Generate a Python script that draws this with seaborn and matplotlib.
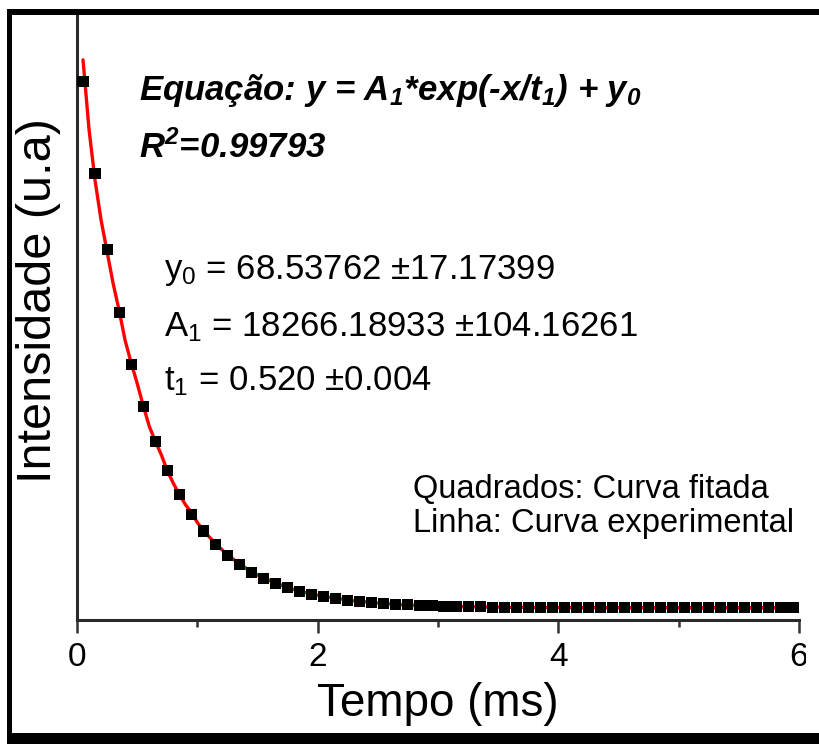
import numpy as np
import pandas as pd
import matplotlib
matplotlib.use("Agg")
import matplotlib.pyplot as plt
import seaborn as sns
from matplotlib.patches import Rectangle

# Curva fitada (quadrados), passo de 0.1 ms
tempo_fit = [round(0.05 + 0.1 * i, 2) for i in range(60)]
intensidade_fit = [16660, 13757, 11363, 9387, 7756, 6411, 5302, 4386, 3631, 3008,
                   2493, 2069, 1719, 1430, 1192, 996, 833, 700, 589, 498,
                   423, 361, 310, 268, 233, 204, 180, 161, 145, 131,
                   120, 111, 104, 98, 93, 88, 85, 82, 80, 78,
                   76, 75, 74, 73, 72, 71, 71, 70, 70, 70,
                   69, 69, 69, 69, 69, 69, 69, 69, 69, 69]

# Curva experimental (linha)
tempo_exp = [round(0.05 + 0.05 * i, 2) for i in range(40)] + [round(2.1 + 0.1 * i, 2) for i in range(40)]
intensidade_exp = [17350, 15150, 13550, 12300, 11300, 10300, 9450, 8500, 7800, 7150,
                   6450, 5800, 5330, 4900, 4400, 4000, 3650, 3330, 3080, 2760,
                   2510, 2300, 2110, 1920, 1740, 1600, 1450, 1330, 1210, 1100,
                   1010, 930, 850, 780, 710, 650, 600, 550, 505, 465,
                   400, 345, 295, 255, 222, 195, 168, 150, 140, 122,
                   117, 104, 102, 93, 92, 84, 86, 77, 80, 74,
                   78, 71, 75, 69, 73, 67, 72, 66, 71, 68,
                   70, 65, 71, 67, 69, 66, 70, 67, 68, 69]

x_ticks = [0, 2, 4, 6]
x_minor = [1, 3, 5]

df_fit = pd.DataFrame({"Tempo": tempo_fit, "Intensidade": intensidade_fit})
df_exp = pd.DataFrame({"Tempo": tempo_exp, "Intensidade": intensidade_exp})

sns.set_theme(style="ticks")
plt.rcParams["font.family"] = ["Liberation Sans", "DejaVu Sans"]
plt.rcParams["mathtext.fontset"] = "custom"
plt.rcParams["mathtext.rm"] = "Liberation Sans"
plt.rcParams["mathtext.it"] = "Liberation Sans:italic"
plt.rcParams["mathtext.bf"] = "Liberation Sans:bold"
plt.rcParams["mathtext.bfit"] = "Liberation Sans:bold:italic"

W, H = 820, 744
fig = plt.figure(figsize=(W / 100, H / 100), dpi=100)
fig.patch.set_facecolor("white")
fig.patch.set_linewidth(0)
ax = fig.add_axes([77 / W, 1 - 620 / H, (799 - 77) / W, (620 - 12) / H])

sns.lineplot(data=df_exp, x="Tempo", y="Intensidade", color="#ff0000", lw=2.4, ax=ax, zorder=2)
sns.scatterplot(data=df_fit, x="Tempo", y="Intensidade", marker="s", s=64, color="black",
                edgecolor="none", linewidth=0, ax=ax, zorder=3)

ax.set_xlim(0, 6)
ax.set_ylim(-315, 18860)
ax.set_yticks([])
ax.set_xticks(x_ticks)
ax.set_xticks(x_minor, minor=True)
ax.set_xticklabels([str(t) for t in x_ticks])
ax.tick_params(axis="x", which="major", direction="out", length=9, width=1.8,
               color="#333333", labelsize=24, pad=7, labelcolor="black")
ax.tick_params(axis="x", which="minor", direction="out", length=5, width=1.8, color="#333333")
ax.spines[["top", "right"]].set_visible(False)
for s in ["left", "bottom"]:
    ax.spines[s].set_color("#2a2a2a")
    ax.spines[s].set_linewidth(2.2)

ax.set_xlabel("Tempo (ms)", fontsize=33, labelpad=6, color="black")
ax.set_ylabel("Intensidade (u.a)", fontsize=35, color="black")
ax.yaxis.set_label_coords(-0.022, 0.526)

# textos
def ftxt(x, y, s, **kw):
    fig.text(x / W, 1 - y / H, s, va="baseline", ha="left", color="black", **kw)

ftxt(139, 100, r"Equação: y = A$_{\mathbfit{1}}$*exp(-x/t$_{\mathbfit{1}}$) + y$_{\mathbfit{0}}$",
     fontsize=25, fontweight="bold", style="italic")
ftxt(139, 158, r"R$^{\mathbfit{2}}$=0.99793", fontsize=25, fontweight="bold", style="italic")

ftxt(164, 279, r"y$_0$ = 68.53762 ±17.17399", fontsize=25)
ftxt(164, 336, r"A$_1$ = 18266.18933 ±104.16261", fontsize=25)
ftxt(164, 390, r"t$_1$ = 0.520 ±0.004", fontsize=25)

ftxt(413, 498, "Quadrados: Curva fitada", fontsize=23.5)
ftxt(413, 532, "Linha: Curva experimental", fontsize=23.5)

# moldura preta (esquerda, topo, base); lado direito fica aberto
for (x0, y0, w, h) in [(7, 9, 5, 735), (7, 9, 813, 6), (7, 733, 813, 11)]:
    fig.add_artist(Rectangle((x0 / W, 1 - (y0 + h) / H), w / W, h / H, lw=0,
                             transform=fig.transFigure, facecolor="black", zorder=10))
fig.add_artist(Rectangle((806 / W, 1 - 733 / H), 14 / W, 718 / H, lw=0,
                         transform=fig.transFigure, facecolor="white", zorder=20))

fig.savefig("out.png", dpi=100, facecolor="white", edgecolor="none")
